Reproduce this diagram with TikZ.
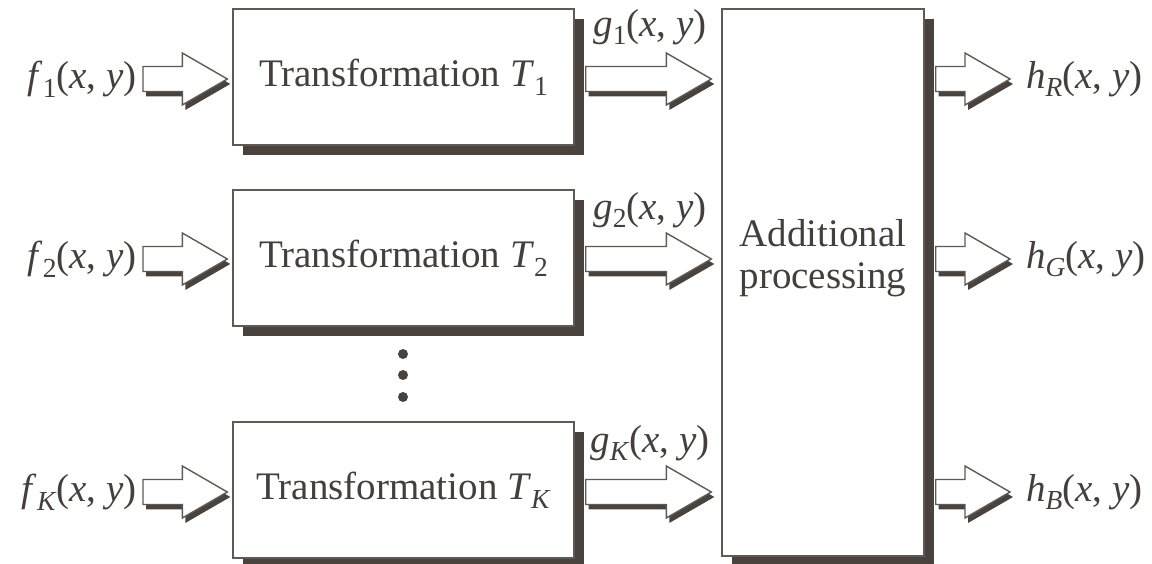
\documentclass[tikz,border=0pt]{standalone}
\usepackage{fontspec}
\setmainfont{Liberation Serif}
\usetikzlibrary{calc,shadows}
\definecolor{ink}{HTML}{443F3A}
\definecolor{shadowc}{HTML}{4A433D}
\definecolor{edgec}{HTML}{5F5A55}
\newcommand\sub[1]{\raisebox{-0.22em}{\fontsize{27.5}{27.5}\selectfont #1}}
\newcommand\fn[2]{\textit{#1}\sub{#2}(\textit{x}, \textit{y})}
\newcommand\blockarrow[2]{%
  \fill[shadowc] let \p1=#1, \p2=#2 in
    (\x1+3pt,\y1+7.5pt) -- (\x2-42pt,\y1+7.5pt) -- (\x2-42pt,\y1+21pt) -- (\x2+3pt,\y1-5pt)
    -- (\x2-42pt,\y1-31pt) -- (\x2-42pt,\y1-17.5pt) -- (\x1+3pt,\y1-17.5pt) -- cycle;
  \draw[arrline] let \p1=#1, \p2=#2 in
    (\x1,\y1+12.5pt) -- (\x2-45pt,\y1+12.5pt) -- (\x2-45pt,\y1+26pt) -- (\x2,\y1)
    -- (\x2-45pt,\y1-26pt) -- (\x2-45pt,\y1-12.5pt) -- (\x1,\y1-12.5pt) -- cycle;
}
\tikzset{
  lbl/.style={text=ink, inner sep=0pt, font=\fontsize{39}{42}\selectfont},
  blk/.style={draw=edgec, line width=1.4pt, fill=white, text=ink, inner sep=0pt,
    font=\fontsize{39}{42}\selectfont,
    drop shadow={shadow xshift=10pt, shadow yshift=-10pt, fill=shadowc, opacity=1}},
  arrline/.style={draw=edgec, line width=1.4pt, fill=white, line join=miter},
  dot/.style={circle, fill=shadowc, inner sep=0pt, minimum size=10pt},
}
\begin{document}
\begin{tikzpicture}[x=1pt,y=1pt]
\useasboundingbox (0,0) rectangle (1152,564);
\clip (0,0) rectangle (1152,564);
% boxes
\node[blk, minimum width=341pt, minimum height=136pt] (T1) at (403.5,487) {Transformation \textit{T}\sub{1}};
\node[blk, minimum width=341pt, minimum height=136pt] (T2) at (403.5,306) {Transformation \textit{T}\sub{2}};
\node[blk, minimum width=341pt, minimum height=136pt] (TK) at (403.5,74) {Transformation \textit{T}\sub{\textit{K}}};
\node[blk, minimum width=202pt, minimum height=547pt] (AP) at (823,281.5) {};
\node[lbl, align=center] (APt) at (823,306) {Additional\\processing};
% dots
\node[dot] (d1) at (403,210) {};
\node[dot] (d2) at (403,189) {};
\node[dot] (d3) at (403,167) {};
% input labels
\node[lbl, anchor=east] (f1) at (137,485) {\fn{f}{1}};
\node[lbl, anchor=east] (f2) at (137,305) {\fn{f}{2}};
\node[lbl, anchor=east] (fK) at (137,72) {\fn{f}{\textit{K}}};
% intermediate labels
\node[lbl] (g1) at (650,537) {\fn{g}{1}};
\node[lbl] (g2) at (650,354) {\fn{g}{2}};
\node[lbl] (gK) at (650,121) {\fn{g}{\textit{K}}};
% output labels
\node[lbl, anchor=west] (hR) at (1026,485) {\fn{h}{\textit{R}}};
\node[lbl, anchor=west] (hG) at (1026,305) {\fn{h}{\textit{G}}};
\node[lbl, anchor=west] (hB) at (1026,72) {\fn{h}{\textit{B}}};
% input arrows
\blockarrow{($(f1.east)+(6pt,0)$)}{($(T1.west |- f1.east)+(-5pt,0)$)}
\blockarrow{($(f2.east)+(6pt,0)$)}{($(T2.west |- f2.east)+(-5pt,0)$)}
\blockarrow{($(fK.east)+(6pt,0)$)}{($(TK.west |- fK.east)+(-5pt,0)$)}
% intermediate arrows
\blockarrow{($(T1.east |- f1.east)+(11pt,0)$)}{($(AP.west |- f1.east)+(-10pt,0)$)}
\blockarrow{($(T2.east |- f2.east)+(11pt,0)$)}{($(AP.west |- f2.east)+(-10pt,0)$)}
\blockarrow{($(TK.east |- fK.east)+(11pt,0)$)}{($(AP.west |- fK.east)+(-10pt,0)$)}
% output arrows
\blockarrow{($(AP.east |- hR.west)+(11pt,0)$)}{($(hR.west)+(-16pt,0)$)}
\blockarrow{($(AP.east |- hG.west)+(11pt,0)$)}{($(hG.west)+(-16pt,0)$)}
\blockarrow{($(AP.east |- hB.west)+(11pt,0)$)}{($(hB.west)+(-16pt,0)$)}
\end{tikzpicture}
\end{document}
